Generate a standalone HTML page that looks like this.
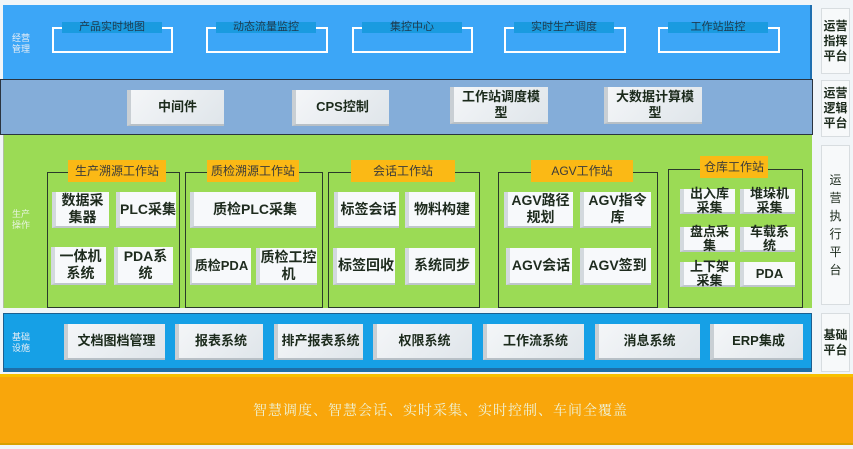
<!DOCTYPE html>
<html><head><meta charset="utf-8"><style>
*{margin:0;padding:0;box-sizing:border-box}
body{width:853px;height:449px;background:#f1f5f8;position:relative;overflow:hidden;font-family:"Liberation Sans","Noto Sans CJK SC",sans-serif}
div{position:absolute}
.br{border:2px solid #fff;height:26px;top:27px}
.bl{top:22px;height:11px;background:#1a9be0;color:#1f3a50;font-size:11px;line-height:11px;text-align:center;white-space:nowrap}
.btn{background:linear-gradient(135deg,#f4f6f8 0%,#dfe5ea 100%);border-left:4px solid #c9cfd4;border-bottom:2px solid #b8c0c6;display:flex;align-items:center;justify-content:center;text-align:center;font-weight:bold;color:#1b2a1b;font-size:13px;line-height:16px}
.wbtn{background:#f7f9fb;border-left:4px solid #d3d9de;border-bottom:2px solid #bfc6cc;display:flex;align-items:center;justify-content:center;text-align:center;font-weight:bold;color:#1e2b1e;font-size:14px;line-height:17px}
.st{border:1px solid #2a3a2a;top:172px;height:136px}
.sl{background:#fbb915;color:#3a3a3a;font-size:12px;height:22px;line-height:22px;text-align:center;top:160px}
.side{background:#f7f9fa;border:1px solid #d8dde0;color:#1c2a1c;font-size:12px;font-weight:bold;line-height:15px;display:flex;align-items:center;justify-content:center;text-align:center;left:821px;width:29px}
.lab{color:#e8eef6;font-size:9px;line-height:11px}
</style></head><body>
<div style="left:3px;top:5px;width:809px;height:74px;background:#3ca6f7;border-right:2px solid #1f6fb0"></div>
<div style="left:0;top:79px;width:813px;height:56px;background:#84add9;border:1px solid #2a3440"></div>
<div style="left:3px;top:135px;width:809px;height:173px;background:#9bdb55;border-left:1px solid #b0c0a0"></div>
<div style="left:3px;top:313px;width:809px;height:59px;background:#16a0e6;border:1px solid #1c5f90;border-bottom:4px solid #1e6ea8"></div>
<div style="left:0;top:374px;width:853px;height:71px;background:#f9a60b;border-top:3px solid #f7c000;border-bottom:2px solid #d8a000"></div>
<div style="left:0;top:400px;width:853px;text-align:center;padding-left:28px;color:#eef3d8;font-size:14px;font-family:'Liberation Serif','Noto Serif CJK SC',serif;letter-spacing:1px">智慧调度、智慧会话、实时采集、实时控制、车间全覆盖</div>

<div class="lab" style="left:12px;top:33px">经营<br>管理</div>
<div class="br" style="left:52px;width:121px"></div><div class="bl" style="left:62px;width:100px">产品实时地图</div>
<div class="br" style="left:206px;width:122px"></div><div class="bl" style="left:216px;width:100px">动态流量监控</div>
<div class="br" style="left:352px;width:121px"></div><div class="bl" style="left:362px;width:100px">集控中心</div>
<div class="br" style="left:504px;width:122px"></div><div class="bl" style="left:514px;width:100px">实时生产调度</div>
<div class="br" style="left:658px;width:122px"></div><div class="bl" style="left:668px;width:100px">工作站监控</div>

<div class="btn" style="left:127px;top:90px;width:97px;height:36px">中间件</div>
<div class="btn" style="left:292px;top:90px;width:97px;height:36px">CPS控制</div>
<div class="btn" style="left:450px;top:87px;width:98px;height:37px">工作站调度模<br>型</div>
<div class="btn" style="left:604px;top:87px;width:98px;height:37px">大数据计算模<br>型</div>

<div class="lab" style="left:12px;top:209px;color:#e8f4e0">生产<br>操作</div>
<div class="st" style="left:47px;width:133px"></div><div class="sl" style="left:68px;width:98px">生产溯源工作站</div>
<div class="wbtn" style="left:52px;top:192px;width:57px;height:36px">数据采<br>集器</div>
<div class="wbtn" style="left:116px;top:192px;width:60px;height:36px">PLC采集</div>
<div class="wbtn" style="left:51px;top:247px;width:55px;height:38px">一体机<br>系统</div>
<div class="wbtn" style="left:114px;top:247px;width:59px;height:38px">PDA系<br>统</div>

<div class="st" style="left:185px;width:138px"></div><div class="sl" style="left:207px;width:92px">质检溯源工作站</div>
<div class="wbtn" style="left:190px;top:192px;width:126px;height:36px">质检PLC采集</div>
<div class="wbtn" style="left:190px;top:248px;width:61px;height:37px;font-size:13px;white-space:nowrap;border-left-width:2px">质检PDA</div>
<div class="wbtn" style="left:256px;top:248px;width:61px;height:37px">质检工控<br>机</div>

<div class="st" style="left:328px;width:152px"></div><div class="sl" style="left:351px;width:104px">会话工作站</div>
<div class="wbtn" style="left:334px;top:192px;width:65px;height:36px">标签会话</div>
<div class="wbtn" style="left:405px;top:192px;width:70px;height:36px">物料构建</div>
<div class="wbtn" style="left:333px;top:248px;width:62px;height:37px">标签回收</div>
<div class="wbtn" style="left:405px;top:248px;width:70px;height:37px">系统同步</div>

<div class="st" style="left:498px;width:160px"></div><div class="sl" style="left:531px;width:102px">AGV工作站</div>
<div class="wbtn" style="left:504px;top:192px;width:69px;height:36px">AGV路径<br>规划</div>
<div class="wbtn" style="left:580px;top:192px;width:71px;height:36px">AGV指令<br>库</div>
<div class="wbtn" style="left:506px;top:248px;width:66px;height:37px">AGV会话</div>
<div class="wbtn" style="left:580px;top:248px;width:71px;height:37px">AGV签到</div>

<div class="st" style="left:668px;top:169px;width:135px;height:139px"></div><div class="sl" style="left:700px;top:156px;width:68px">仓库工作站</div>
<div class="wbtn" style="left:680px;top:189px;width:55px;height:25px;font-size:13px;line-height:14px">出入库<br>采集</div>
<div class="wbtn" style="left:740px;top:189px;width:55px;height:25px;font-size:13px;line-height:14px">堆垛机<br>采集</div>
<div class="wbtn" style="left:680px;top:227px;width:55px;height:25px;font-size:13px;line-height:14px">盘点采<br>集</div>
<div class="wbtn" style="left:740px;top:227px;width:55px;height:25px;font-size:13px;line-height:14px">车载系<br>统</div>
<div class="wbtn" style="left:680px;top:262px;width:55px;height:25px;font-size:13px;line-height:14px">上下架<br>采集</div>
<div class="wbtn" style="left:740px;top:262px;width:55px;height:25px;font-size:13px;line-height:14px">PDA</div>

<div class="lab" style="left:12px;top:332px">基础<br>设施</div>
<div class="btn" style="left:64px;top:324px;width:101px;height:36px">文档图档管理</div>
<div class="btn" style="left:175px;top:324px;width:88px;height:36px">报表系统</div>
<div class="btn" style="left:274px;top:324px;width:89px;height:36px">排产报表系统</div>
<div class="btn" style="left:373px;top:324px;width:99px;height:36px">权限系统</div>
<div class="btn" style="left:483px;top:324px;width:101px;height:36px">工作流系统</div>
<div class="btn" style="left:595px;top:324px;width:105px;height:36px">消息系统</div>
<div class="btn" style="left:710px;top:324px;width:93px;height:36px">ERP集成</div>

<div class="side" style="top:8px;height:66px">运营<br>指挥<br>平台</div>
<div class="side" style="top:80px;height:57px">运营<br>逻辑<br>平台</div>
<div class="side" style="top:145px;height:160px;line-height:18px;font-weight:normal">运<br>营<br>执<br>行<br>平<br>台</div>
<div class="side" style="top:313px;height:59px">基础<br>平台</div>
</body></html>
